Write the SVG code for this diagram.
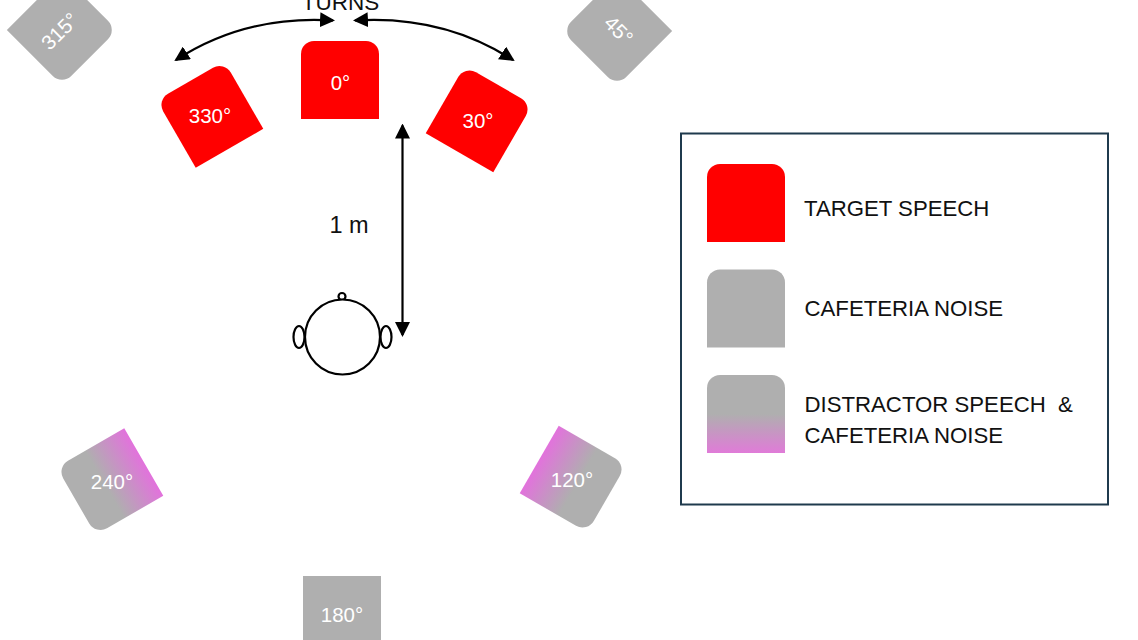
<svg xmlns="http://www.w3.org/2000/svg" width="1138" height="640" viewBox="0 0 1138 640">
<style>
text{font-family:"Liberation Sans",Arial,sans-serif}
.sp{font-size:20.5px;fill:#fff;text-anchor:middle;dominant-baseline:central}
.lg{font-size:22.2px;fill:#111;white-space:pre}
.red{fill:#f00}.gray{fill:#afafaf}.mix{fill:url(#mix)}.mix2{fill:url(#mix2)}
.ln{fill:none;stroke:#000;stroke-width:2.2}
.arrow{marker-start:url(#ah);marker-end:url(#ah)}
</style>
<defs>
<path id="spk" d="M-39,39V-26A13,13 0 0 1 -26,-39H26A13,13 0 0 1 39,-26V39Z"/>
<linearGradient id="mix" x1="0" y1="0" x2="0" y2="1"><stop offset="0.5" stop-color="#afafaf"/><stop offset="1" stop-color="#e07bd8"/></linearGradient>
<linearGradient id="mix2" x1="0" y1="0" x2="0" y2="1"><stop offset="0.42" stop-color="#afafaf"/><stop offset="1" stop-color="#e272dc"/></linearGradient>
<marker id="ah" markerUnits="userSpaceOnUse" viewBox="0 0 15 15" refX="13" refY="7.500" markerWidth="15" markerHeight="15" orient="auto-start-reverse"><path d="M0,0L15,7.500L0,15Z" fill="#000"/></marker>
</defs>
<rect width="1138" height="640" fill="#fff"/>
<g id="connectors">
<path class="ln arrow" d="M176,60Q245,15 333,20.500"/>
<path class="ln arrow" d="M355,20.500Q443,15 513,60"/>
<path class="ln arrow" d="M402.500,125.500V335"/>
</g>
<text x="340.500" y="10" font-size="22.500" text-anchor="middle" fill="#111">TURNS</text>
<text x="349" y="233" font-size="23.500" text-anchor="middle" fill="#111">1 m</text>
<g id="speaker-0"><use href="#spk" class="red" transform="translate(340,80)"/><text class="sp" x="340.500" y="82">0°</text></g>
<g id="speaker-330"><use href="#spk" class="red" transform="translate(210,114.500) rotate(-30)"/><text class="sp" x="210" y="115.500">330°</text></g>
<g id="speaker-30"><use href="#spk" class="red" transform="translate(479,119) rotate(30)"/><text class="sp" x="478" y="120.500">30°</text></g>
<g id="speaker-315"><use href="#spk" class="gray" transform="translate(62,30) rotate(135)"/><text class="sp" transform="translate(59.500,31) rotate(-45)">315°</text></g>
<g id="speaker-45"><use href="#spk" class="gray" transform="translate(617,31) rotate(-135)"/><text class="sp" transform="translate(619,30) rotate(45)">45°</text></g>
<g id="speaker-240"><use href="#spk" class="mix2" transform="translate(110,481.500) rotate(240)"/><text class="sp" x="112" y="481">240°</text></g>
<g id="speaker-120"><use href="#spk" class="mix2" transform="translate(573,479) rotate(120)"/><text class="sp" x="572" y="479">120°</text></g>
<g id="speaker-180"><use href="#spk" class="gray" transform="translate(342,615) rotate(180)"/><text class="sp" x="342" y="614">180°</text></g>
<g id="listener" fill="#fff" stroke="#000" stroke-width="2.200">
<ellipse cx="299" cy="337" rx="5.500" ry="11"/>
<ellipse cx="386" cy="337" rx="5.500" ry="11"/>
<circle cx="342" cy="296.500" r="3.500"/>
<circle cx="342.500" cy="337" r="37.500"/>
</g>
<g id="legend">
<rect x="681" y="133.500" width="427" height="371" fill="none" stroke="#1f3a4d" stroke-width="2"/>
<use href="#spk" class="red" transform="translate(746,203)"/>
<use href="#spk" class="gray" transform="translate(746,308.500)"/>
<use href="#spk" class="mix" transform="translate(746,414)"/>
<text class="lg" x="804" y="215.500">TARGET SPEECH</text>
<text class="lg" x="804.500" y="316">CAFETERIA NOISE</text>
<text class="lg" x="804.500" y="412">DISTRACTOR SPEECH  &amp;</text>
<text class="lg" x="804.500" y="443">CAFETERIA NOISE</text>
</g>
</svg>
